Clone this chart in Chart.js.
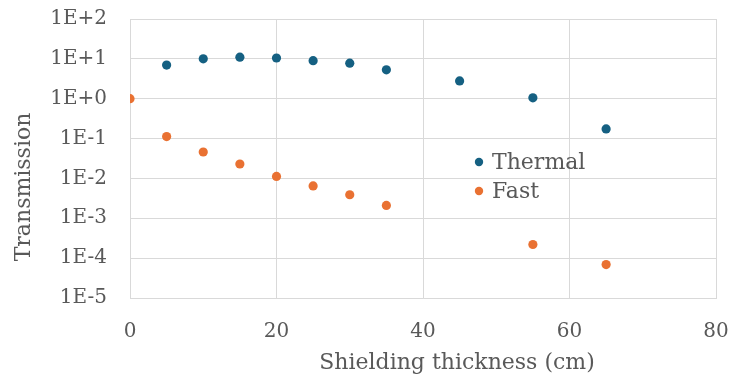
<!DOCTYPE html>
<html><head><meta charset="utf-8">
<script src="https://cdn.jsdelivr.net/npm/chart.js@4/dist/chart.umd.min.js"></script>
<style>html,body{margin:0;padding:0;background:#fff;}</style>
</head><body>
<canvas id="c" width="735" height="385"></canvas>
<script>
// ---- data ----
const thicknessThermal = [5, 10, 15, 20, 25, 30, 35, 45, 55, 65];
const thermalValues    = [7.0, 10.0, 11.0, 10.5, 9.0, 7.8, 5.3, 2.8, 1.05, 0.175];
const thicknessFast    = [0, 5, 10, 15, 20, 25, 30, 35, 55, 65];
const fastValues       = [1.0, 0.112, 0.046, 0.023, 0.0112, 0.0065, 0.0039, 0.0021, 0.00022, 0.000069];
const seriesNames = ['Thermal', 'Fast'];
const xTickValues = [0, 20, 40, 60, 80];
const yTickValues = [1e-5, 1e-4, 1e-3, 1e-2, 1e-1, 1e0, 1e1, 1e2];
const yTickLabels = ['1E-5', '1E-4', '1E-3', '1E-2', '1E-1', '1E+0', '1E+1', '1E+2'];
const xTitle = 'Shielding thickness (cm)';
const yTitle = 'Transmission';

// ---- styles ----
const FONT = "'DejaVu Serif', serif";
const TXT = '#595959';
const GRID = '#D9D9D9';
const COLORS = ['#156082', '#E97132'];

const insideLegend = {
  id: 'insideLegend',
  afterDraw(chart) {
    const ctx = chart.ctx;
    const x0 = 479, y0 = 162, dy = 29;
    ctx.save();
    ctx.font = '22px ' + FONT;
    ctx.textBaseline = 'middle';
    ctx.textAlign = 'left';
    chart.data.datasets.forEach((ds, i) => {
      const y = y0 + i * dy;
      ctx.fillStyle = ds.backgroundColor;
      ctx.beginPath();
      ctx.arc(x0, y, 4.2, 0, Math.PI * 2);
      ctx.fill();
      ctx.fillStyle = TXT;
      ctx.fillText(ds.label, x0 + 13, y + 1);
    });
    ctx.restore();
  }
};

const axisTitles = {
  id: 'axisTitles',
  afterDraw(chart) {
    const ctx = chart.ctx;
    ctx.save();
    ctx.font = '22px ' + FONT;
    ctx.fillStyle = TXT;
    ctx.textAlign = 'center';
    ctx.textBaseline = 'middle';
    ctx.fillText(xTitle, 457, 363);
    ctx.translate(24, 187);
    ctx.rotate(-Math.PI / 2);
    ctx.fillText(yTitle, 0, 0);
    ctx.restore();
  }
};

function yLabel(v) {
  const i = yTickValues.findIndex(t => Math.abs(Math.log10(t) - Math.log10(v)) < 1e-6);
  return i >= 0 ? yTickLabels[i] : '';
}
function noPad(s) { s.paddingTop = 0; s.paddingBottom = 0; s.paddingLeft = 0; s.paddingRight = 0; }

new Chart(document.getElementById('c'), {
  type: 'scatter',
  data: {
    datasets: [
      {
        label: seriesNames[0],
        data: thicknessThermal.map((x, i) => ({ x: x, y: thermalValues[i] })),
        backgroundColor: COLORS[0], borderColor: COLORS[0],
        pointRadius: 4.6, pointHoverRadius: 4.6, borderWidth: 0
      },
      {
        label: seriesNames[1],
        data: thicknessFast.map((x, i) => ({ x: x, y: fastValues[i] })),
        backgroundColor: COLORS[1], borderColor: COLORS[1],
        pointRadius: 4.6, pointHoverRadius: 4.6, borderWidth: 0
      }
    ]
  },
  options: {
    responsive: false,
    animation: false,
    devicePixelRatio: 1,
    layout: { padding: { top: 19, right: 19, left: 0, bottom: 0 } },
    plugins: { legend: { display: false }, tooltip: { enabled: false } },
    scales: {
      x: {
        type: 'linear', min: 0, max: 80,
        afterBuildTicks: s => { s.ticks = xTickValues.map(v => ({ value: v })); },
        afterFit: s => { s.height = 87; noPad(s); },
        ticks: { padding: 22, font: { family: FONT, size: 20 }, color: TXT, maxRotation: 0 },
        grid: { color: GRID, drawTicks: false, lineWidth: 1 },
        border: { color: GRID },
        title: { display: false }
      },
      y: {
        type: 'logarithmic', min: 1e-5, max: 1e2,
        afterBuildTicks: s => { s.ticks = yTickValues.map(v => ({ value: v })); },
        afterFit: s => { s.width = 130; noPad(s); },
        ticks: { padding: 23, font: { family: FONT, size: 20 }, color: TXT, callback: v => yLabel(v) },
        grid: { color: GRID, drawTicks: false, lineWidth: 1 },
        border: { color: GRID }
      }
    }
  },
  plugins: [insideLegend, axisTitles]
});
</script>
</body></html>
